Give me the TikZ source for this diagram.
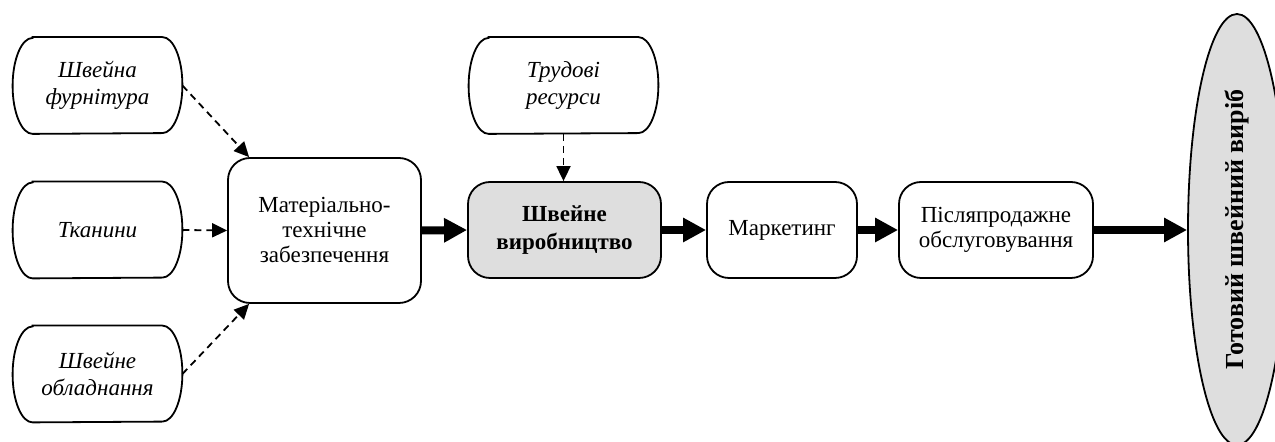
\documentclass[tikz,border=0pt]{standalone}
\usepackage{fontspec}
\setmainfont{Liberation Serif}
\usetikzlibrary{shapes.geometric,arrows.meta}
\tikzset{
  resbox/.style={minimum width=84.5pt, minimum height=48pt, inner sep=0pt,
                 align=center, font=\fontsize{11.5}{13.5}\selectfont\itshape},
  stagebox/.style={draw, line width=0.9pt, rounded corners=11pt, minimum height=48pt,
                   inner sep=0pt, align=center, font=\fontsize{11.5}{12.5}\selectfont},
  goalshape/.style={ellipse, draw, line width=0.9pt, fill=black!13, inner sep=0pt,
                    font=\fontsize{13}{15}\selectfont\bfseries},
  dasharrow/.style={line width=0.9pt, dash pattern=on 3.5pt off 2.5pt,
                    -{Triangle[length=7.5pt,width=7pt]}},
  flowarrow/.style={line width=4pt, -{Triangle[length=11.5pt,width=11.5pt]}}
}
\begin{document}
\begin{tikzpicture}[x=0.5pt,y=-0.5pt]
    \useasboundingbox (0,0) rectangle (1275,442);

    \node[resbox] (furn) at (97.5,85.5)  {Швейна\\фурнітура};
    \node[resbox] (tkan) at (97.5,230)   {Тканини};
    \node[resbox] (obl)  at (97.5,374)   {Швейне\\обладнання};
    \node[resbox, minimum width=94.5pt] (trud) at (563.5,85.5) {Трудові\\ресурси};
    \foreach \n in {furn,tkan,obl,trud}
        \draw[line width=0.9pt] ([xshift=10pt]\n.north west) -- ([xshift=-10pt]\n.north east)
            arc[start angle=90, end angle=-90, x radius=10pt, y radius=24pt]
            -- ([xshift=10pt]\n.south west)
            arc[start angle=270, end angle=90, x radius=10pt, y radius=24pt] -- cycle;

    \node[stagebox, minimum width=96.5pt, minimum height=72.5pt] (mat)
        at (324.5,230.5) {Матеріально-\\технічне\\забезпечення};
    \node[stagebox, minimum width=96.5pt, fill=black!13,
          font=\fontsize{11.5}{14}\selectfont\bfseries] (vyr)
        at (564.5,230) {Швейне\\виробництво};
    \node[stagebox, minimum width=75pt] (mark) at (782,230) {Маркетинг};
    \node[stagebox, minimum width=97pt] (post) at (996,230) {Післяпродажне\\обслуговування};
    \node[goalshape, rotate=90, minimum width=215.5pt, minimum height=49pt] (goal)
        at (1237,229.5) {Готовий швейний виріб};

    \draw[dasharrow] (furn.east) -- ([xshift=11pt]mat.north west);
    \draw[dasharrow] (tkan.east) -- (mat.west);
    \draw[dasharrow] (obl.east)  -- ([xshift=11pt]mat.south west);
    \draw[dasharrow] (trud.south) -- (trud.south |- vyr.north);

    \draw[flowarrow] (mat.east)  -- (vyr.west);
    \draw[flowarrow] (vyr.east)  -- (mark.west);
    \draw[flowarrow] (mark.east) -- (post.west);
    \draw[flowarrow] (post.east) -- (post.east -| goal.north);
\end{tikzpicture}
\end{document}
